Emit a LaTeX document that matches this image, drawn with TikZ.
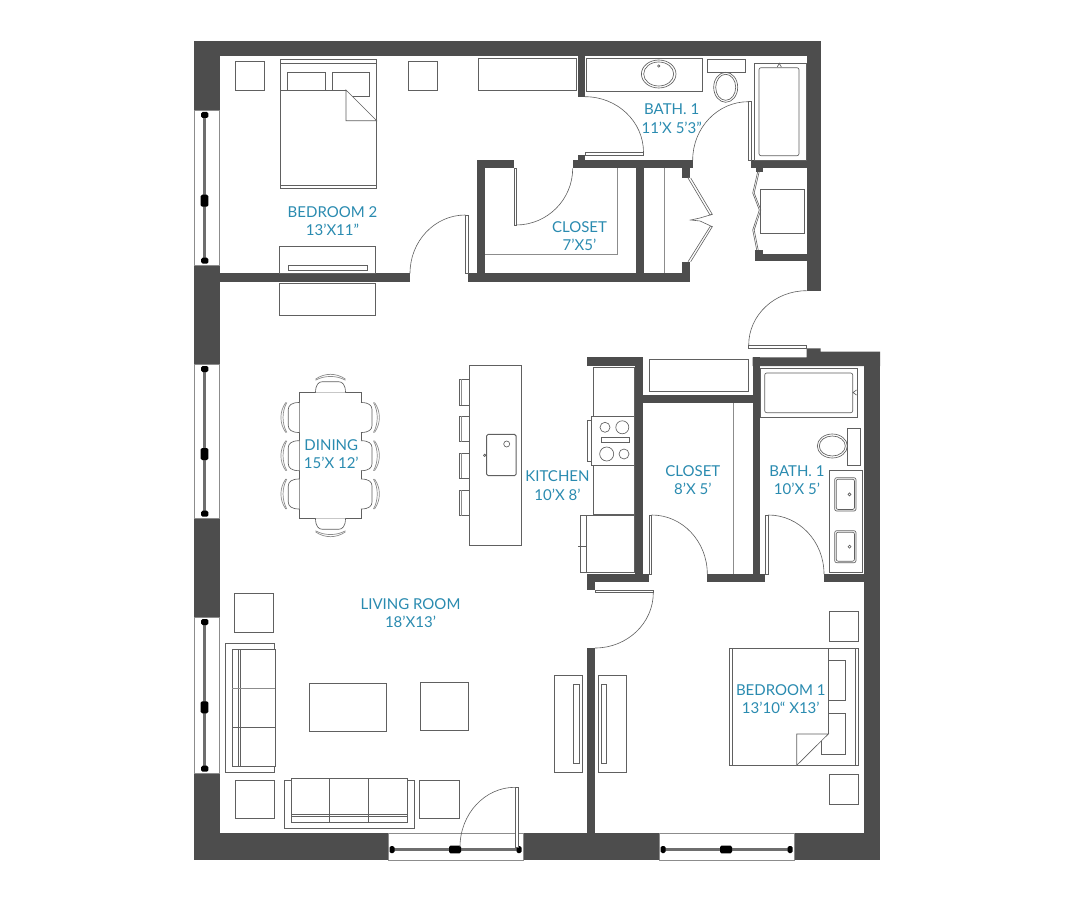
\documentclass[tikz,border=0pt]{standalone}
\usepackage{fontspec}
\setmainfont{Lato}
\usetikzlibrary{calc}
\definecolor{wallgray}{HTML}{4D4D4D}
\definecolor{linegray}{HTML}{606060}
\definecolor{softgray}{HTML}{8C8C8C}
\definecolor{rodgray}{HTML}{6E6E6E}
\definecolor{labelblue}{HTML}{2A8BB0}
\tikzset{
  wall/.style={fill=wallgray, draw=none},
  furn/.style={draw=linegray, line width=0.65pt},
  soft/.style={draw=softgray, line width=0.7pt},
  leaf/.style={draw=linegray, fill=white, line width=0.6pt},
  swing/.style={draw=linegray, line width=0.6pt},
  frame/.style={draw=softgray, fill=white, line width=0.8pt},
  rod/.style={draw=rodgray, line width=3.2pt},
  roomlabel/.style={text=labelblue, align=center, inner sep=0pt, font=\fontsize{15}{18.5}\selectfont}
}
% quarter swing of a door: start, corner, end
\newcommand{\doorswing}[3]{\draw[swing] #1 .. controls ($#1!0.552!#2$) and ($#3!0.552!#2$) .. #3;}
% dining chair, seat on the table edge
\newcommand{\chairat}[3]{\begin{scope}[shift={(#1,#2)}, rotate=#3]
  \draw[furn, fill=white] (-15,0) .. controls (-15,-8) and (-12,-11) .. (-8,-11) -- (8,-11) .. controls (12,-11) and (15,-8) .. (15,0);
  \draw[soft] (-15,-12.5) .. controls (-6,-17.5) and (6,-17.5) .. (15,-12.5);
  \draw[soft] (-15,-13.5) .. controls (-6,-20) and (6,-20) .. (15,-13.5);
\end{scope}}
\begin{document}
\begin{tikzpicture}[x=1pt, y=-1pt]
\useasboundingbox (0,0) rectangle (1087,904);
\fill[white] (0,0) rectangle (1087,904);
% Draw walls
\foreach \xa/\ya/\xb/\yb in {194/41/820.5/56, 194/41/219.5/860, 194/833/880/860, 806.7/41/820.5/290.7,
    863.5/352/880/860, 219/273.3/410/281.7, 468.3/273.3/690/281.7, 578/56/585/96.7, 578/155/585/161,
    572.7/160/692.7/168.3, 681.7/168/690/178.3, 476.7/160/514/168.3, 476.7/160/485/281, 636/168/644.3/273.5,
    681.7/262.3/690/274, 751/160/806.8/168.3, 755.7/168/762.7/171.7, 755/254/806.8/261, 755/250/762.7/254.5,
    586.7/357.3/643.3/366, 635/357.3/643.3/582, 635/395/753/403.3, 752.7/357.3/760/582,
    586.7/574/649/582, 586.7/574/595/590, 707.3/574/765/582, 824/574/864/582, 586.7/648/594.7/834}
    \fill[wall] (\xa,\ya) rectangle (\xb,\yb);
\fill[wall] (752.7,357.3) -- (806.7,357.3) -- (806.7,348.3) -- (820.5,348.3) -- (820.5,351.7) -- (880,351.7) -- (880,366) -- (752.7,366) -- cycle;
% Draw plain furniture
\foreach \xa/\ya/\xb/\yb in {235.3/61.3/264/90, 408.3/61.3/437.3/90, 279.3/246/375.7/273.3, 288.3/265.3/367.3/270.7,
    279.3/283.3/375.7/315.3, 478/58.3/576.7/90.7, 586/58/702.3/91, 707.3/59.3/745/72.3, 754.3/63.3/806/160,
    760.7/189.3/804.3/233.3, 649/359.3/748.7/391.7, 593.7/367.3/634/514, 580.3/515.3/634/572.3,
    760/368.3/857.3/417.7, 847.7/428.3/860.3/465.7, 829.3/470.3/862.7/572.3, 469.3/365.7/521.7/545.3,
    299.3/392.7/361/518.3, 234.3/593.3/273.3/632, 225.7/643.3/274.3/772.7, 309.3/683.3/386.7/731.3,
    420/682.3/468.7/730.7, 235.7/780/274.7/818.7, 419.3/780/459.3/818.7, 284.3/780/414/828.3,
    554.3/675.3/582.3/772.7, 573.7/684.3/579/763.3, 598.3/675.3/626.7/772.7, 601.3/684.3/606.7/763.3,
    829.3/611.3/858.7/641.3, 829.3/774.3/858.7/804.3, 729.3/648.3/858.7/765.3}
    \draw[furn] (\xa,\ya) rectangle (\xb,\yb);
% Draw bed 2
\draw[furn] (280.3,59.3) rectangle (376.7,188.3);
\draw[furn] (280.3,63.3) -- (376.7,63.3) (280.3,185) -- (376.7,185);
\draw[furn] (287.7,90) |- (325,72.3) -- (325,90) (332.7,90) |- (369.3,72.3) |- (346,96);
\draw[furn, fill=white] (346,90) -- (376.7,120.7) -- (346,120.7) -- cycle;
\draw[furn] (280.3,90) -- (346,90);
% Draw bath fittings, upper
\draw[furn] (658.7,74) ellipse (17.3 and 14) (658.7,74) ellipse (15 and 12) (658.7,66) circle (1.2);
\draw[furn] (725.7,87.3) ellipse (12 and 15) (725.7,87.3) ellipse (10 and 13);
\draw[furn, rounded corners=2pt] (759,67.7) rectangle (799,155.7);
\draw[furn] (777.3,67) -- (779.3,63.3) -- (781.3,67);
% Draw closets
\draw[soft] (485,254) -- (617.3,254) -- (617.3,168.3) (664.3,168.3) -- (664.3,273.3) (733.3,403.3) -- (733.3,574);
% Draw folding doors
\draw[leaf] (688,178) -- (710,215) -- (712.3,214.3) -- (690.7,178);
\draw[leaf] (688,261.7) -- (710,226.7) -- (712.3,226.7) -- (690.7,261.7);
\draw[swing] (712.3,214.3) -- (700,218) -- (690.7,220) -- (700,221) -- (712.3,226.7);
\draw[leaf, fill=none] (757.7,171.7) -- (752.7,193) -- (759.3,210) -- (752.7,230) -- (756.7,250);
\draw[leaf, fill=none] (759.2,171.7) -- (754.2,193) -- (760.8,210) -- (754.2,230) -- (758.2,250);
% Draw kitchen
\draw[furn, fill=white] (591.7,416.7) rectangle (634,465);
\draw[furn] (591.7,420) -- (587.7,420) -- (587.7,461.7) -- (591.7,461.7);
\draw[furn] (601.7,437.3) rectangle (629.3,442.7);
\foreach \xa/\ya/\r in {605/427.3/5, 622.3/427.3/6.5, 606.7/454/7, 624/454/5}
    \draw[furn] (\xa,\ya) circle (\r);
\draw[furn] (586.7,515.3) -- (586.7,572.3) (578,546.7) -- (586.7,546.7);
\foreach \ya/\yb in {379.3/405, 416/441.7, 453.3/478.3, 490/515.7} {
    \draw[furn] (469.3,\ya) -- (459.3,\ya) -- (459.3,\yb) -- (469.3,\yb);
    \draw[soft] (461.7,\ya) -- (461.7,\yb);
}
\draw[furn, line width=1pt, rounded corners=1.5pt] (486.7,434.3) rectangle (516,475.7);
\draw[furn] (506.7,444) circle (3) (484.7,455.3) circle (1.2);
% Draw bath fittings, lower
\draw[furn, rounded corners=2pt] (764.7,373) rectangle (852.7,412.7);
\draw[furn] (856.5,390) -- (853,392.5) -- (856.5,395);
\draw[furn] (832.3,446) ellipse (15 and 12) (832.3,446) ellipse (13 and 10);
\foreach \ya/\yb in {477.7/511, 530.7/562.7} {
    \draw[furn, rounded corners=2pt] (834.7,\ya) rectangle (856,\yb);
    \draw[furn, rounded corners=2pt] (836.2,\ya+1.5) rectangle (854.5,\yb-1.5);
    \draw[furn] (849.5,{(\ya+\yb)/2}) circle (1.5);
}
% Draw dining chairs
\chairat{330.5}{392.7}{0}
\chairat{330.5}{518.3}{180}
\foreach \y in {417.5,455.7,494} {
    \chairat{299.3}{\y}{90}
    \chairat{361}{\y}{-90}
}
% Draw sofas
\draw[furn, fill=white] (232.3,649.3) rectangle (275.3,766);
\draw[furn] (238.7,649.3) -- (238.7,766) (240,649.3) -- (240,766) (232.3,727.3) -- (275.3,727.3);
\draw[soft] (232.3,688.3) -- (275.3,688.3);
\draw[furn, fill=white] (291,778.3) rectangle (407.7,822);
\draw[furn] (329.7,778.3) -- (329.7,822) (368.3,778.3) -- (368.3,822) (291,814.3) -- (407.7,814.3) (291,816.7) -- (407.7,816.7);
% Draw bed 1
\draw[furn] (732.7,648.3) -- (732.7,765.3) (855.3,648.3) -- (855.3,765.3) (828.3,648.3) -- (828.3,734);
\draw[furn] (828.3,660) -- (845.7,660) -- (845.7,700.3) -- (828.3,700.3);
\draw[furn] (828.3,713.3) -- (845.7,713.3) -- (845.7,754) -- (821.7,754) -- (821.7,741);
\draw[furn, fill=white] (828.3,734) -- (796.7,734) -- (796.7,765.3) -- cycle;
% Draw windows
\foreach \ya/\yb/\ym in {110/265/200.7, 364/518/454, 617/773/707.3} {
    \draw[frame] (194,\ya) rectangle (219.5,\yb);
    \draw[rod] (204.8,\ya+5) -- (204.8,\yb-4.3);
    \fill[black, rounded corners=1.5pt] (201.2,\ya+2) rectangle (208.4,\ya+8) (201.2,\yb-7.3) rectangle (208.4,\yb-1.3) (200.6,\ym-6) rectangle (208.4,\ym+6);
}
\foreach \xa/\xb/\xm in {388/523/455, 659/794/726} {
    \draw[frame] (\xa,833) rectangle (\xb,860);
    \draw[rod] (\xa+4,849.3) -- (\xb-4,849.3);
    \fill[black, rounded corners=1.5pt] (\xa+1.5,846) rectangle (\xa+6.5,853) (\xb-6.5,846) rectangle (\xb-1.5,853) (\xm-6,845.7) rectangle (\xm+6,853.3);
}
% Draw door leaves
\foreach \xa/\ya/\xb/\yb in {465.3/215/468.3/273.3, 585/152.3/643.5/155, 514/168.3/516.5/225, 748.3/101.7/751/160,
    748.7/345/806.7/348.3, 649/515/651.7/574, 765.7/515/768.3/574, 595/590/653.3/592.7, 515/787.3/518.3/847}
    \draw[leaf] (\xa,\ya) rectangle (\xb,\yb);
% Draw door swings
\doorswing{(410,273.3)}{(410,215)}{(465.3,215)}
\doorswing{(585,96.7)}{(643.5,96.7)}{(643.5,152.3)}
\doorswing{(516,225)}{(572.7,225)}{(572.7,168.3)}
\doorswing{(748.3,101.7)}{(692.7,101.7)}{(692.7,160)}
\doorswing{(806.7,290.7)}{(748.7,290.7)}{(748.7,345)}
\doorswing{(651.7,515)}{(707.3,515)}{(707.3,574)}
\doorswing{(768.3,515)}{(824,515)}{(824,574)}
\doorswing{(653.3,592.7)}{(653.3,648)}{(595,648)}
\doorswing{(515,787.3)}{(460,787.3)}{(460,847)}
% Room labels
\node[roomlabel] (bedroomtwo) at (332.5,221) {BEDROOM 2\\13'X11”};
\node[roomlabel] (bathupper) at (671.7,118.5) {BATH. 1\\11'X 5'3”};
\node[roomlabel] (closetupper) at (579.5,236) {CLOSET\\7’X5'};
\node[roomlabel] (closetlower) at (692.8,480) {CLOSET\\8’X 5’};
\node[roomlabel] (bathlower) at (797,480) {BATH. 1\\10’X 5’};
\node[roomlabel] (dining) at (331.3,454) {DINING\\15’X 12’};
\node[roomlabel] (kitchen) at (557.5,485.5) {KITCHEN\\10’X 8’};
\node[roomlabel] (living) at (410.5,613) {LIVING ROOM\\18'X13'};
\node[roomlabel] (bedroomone) at (780.8,699) {BEDROOM 1\\13’10“ X13’};
\end{tikzpicture}
\end{document}
